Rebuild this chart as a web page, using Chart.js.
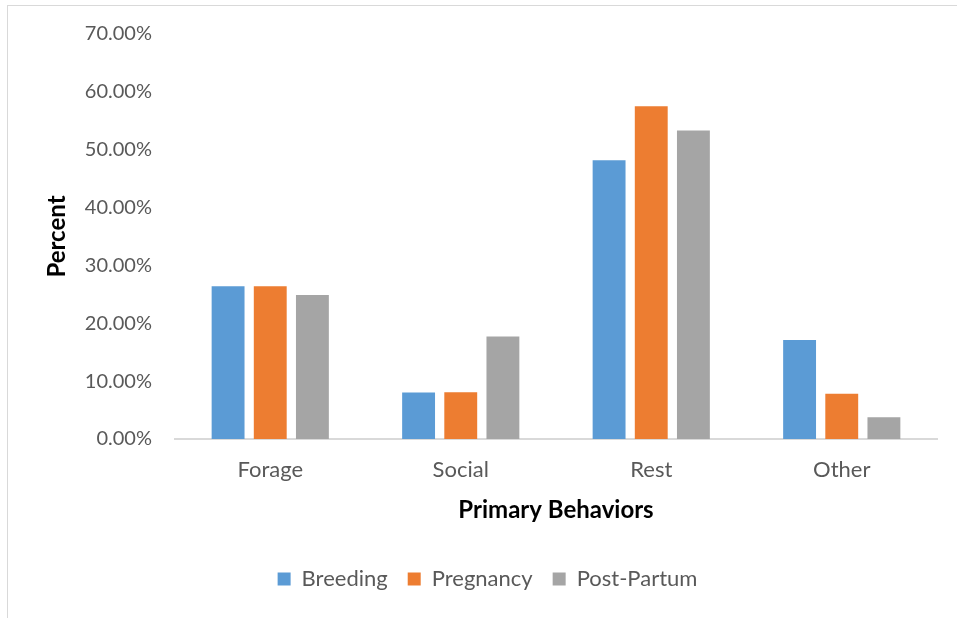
<!DOCTYPE html>
<html>
<head>
<meta charset="utf-8">
<script src="https://cdn.jsdelivr.net/npm/chart.js@4"></script>
<style>
  html, body { margin:0; padding:0; background:#fff; }
  .frame { position:absolute; left:7px; top:5px; width:950px; height:613px;
           border-left:1px solid #d9d9d9; border-top:1px solid #d9d9d9; }
  canvas { display:block; }
</style>
</head>
<body>
<div class="frame"><canvas id="behaviorChart" width="949" height="612"></canvas></div>
<script>
const categories = ['Forage','Social','Rest','Other'];
const breeding   = [26.4, 8.05, 48.2, 17.1];
const pregnancy  = [26.4, 8.1, 57.5, 7.8];
const postPartum = [24.9, 17.7, 53.3, 3.75];
const yTicks = [0,10,20,30,40,50,60,70];

const seriesNames  = ['Breeding','Pregnancy','Post-Partum'];
const seriesColors = ['#5B9BD5','#ED7D31','#A5A5A5'];
const seriesData   = [breeding, pregnancy, postPartum];

const FONT = 'Lato, "Liberation Sans", sans-serif';

// Chart
const ctx = document.getElementById('behaviorChart').getContext('2d');
new Chart(ctx,{
    type:'bar',
    data:{
        labels: categories,
        datasets: seriesNames.map((n,i)=>({
            label:n, data:seriesData[i], backgroundColor:seriesColors[i],
            barPercentage:0.78, categoryPercentage:0.664
        }))
    },
    options:{
        responsive:false,
        animation:false,
        layout:{ padding:{ left:30, right:20, top:28, bottom:18 } },
        plugins:{
            tooltip:{ enabled:false },
            legend:{
                position:'bottom',
                labels:{ boxWidth:13, boxHeight:13, padding:20, color:'#595959',
                         font:{ family:FONT, size:22 } }
            }
        },
        scales:{
            x:{
                afterFit: s => { s.height = 109; },
                grid:{ display:false, drawTicks:false },
                border:{ display:true, color:'#d9d9d9', width:2 },
                ticks:{ color:'#595959', padding:18, font:{ family:FONT, size:22 } },
                title:{ display:true, text:'Primary Behaviors', color:'#000',
                        padding:{ top:0, bottom:23 }, font:{ family:FONT, size:24, weight:'bold' } }
            },
            y:{
                min:0, max:70,
                afterBuildTicks: s => { s.ticks = yTicks.map(v=>({value:v})); },
                // fixed width; drop the tick-padding that would push the plot down
                afterFit: s => { s.width = 137; s.paddingTop = 0; s.paddingBottom = 0; },
                grid:{ display:false, drawTicks:false },
                border:{ display:false },
                ticks:{ color:'#595959', padding:23, font:{ family:FONT, size:20 },
                        callback: v => v.toFixed(2)+'%' },
                title:{ display:true, text:'Percent', color:'#000',
                        padding:{ top:5, bottom:0 }, font:{ family:FONT, size:24, weight:'bold' } }
            }
        }
    }
});
</script>
</body>
</html>
